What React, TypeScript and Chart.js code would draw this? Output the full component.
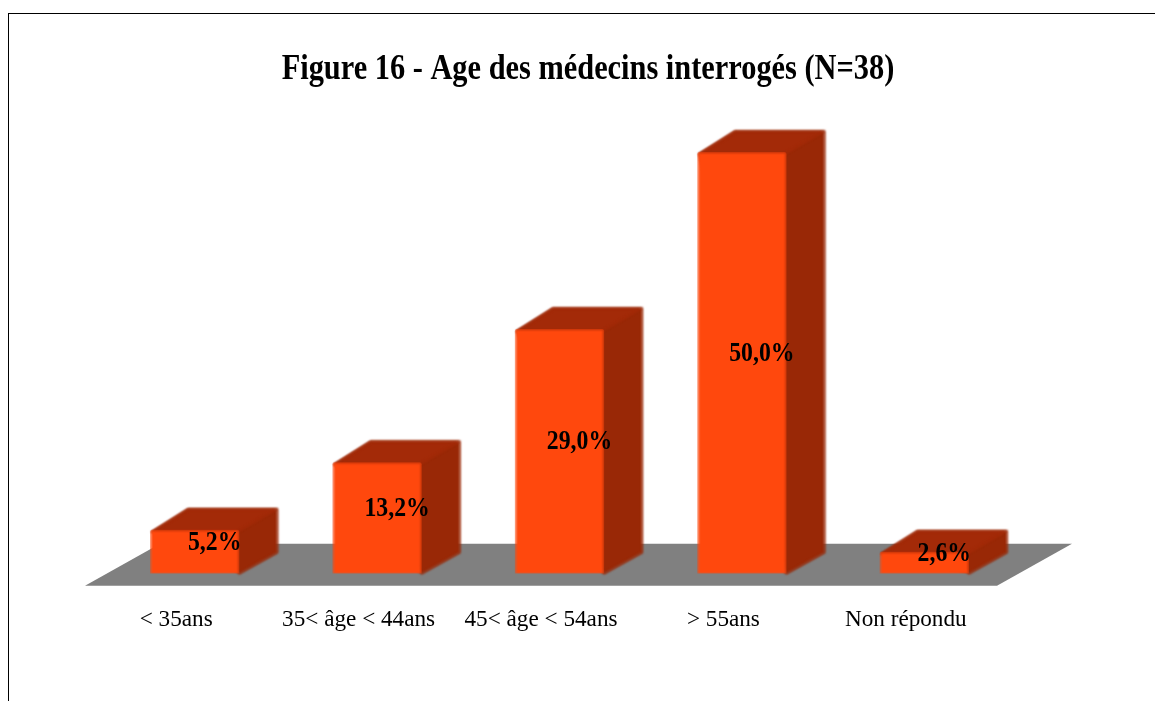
import React, { useEffect, useRef } from "react";
import { Chart, registerables } from "chart.js";

Chart.register(...registerables);

const categories = ["< 35ans", "35< âge < 44ans", "45< âge < 54ans", "> 55ans", "Non répondu"];
const percentages = [5.2, 13.2, 29.0, 50.0, 2.6];
const valueLabels = ["5,2%", "13,2%", "29,0%", "50,0%", "2,6%"];
const chartTitle = "Figure 16 - Age des médecins interrogés (N=38)";

const SERIF = '"Liberation Serif", "Times New Roman", serif';
const FLOOR_DX = 75;
const FLOOR_DY = 42;
const BAR_DX = 38;
const BAR_DY = 21;
const BAR_SHIFT_X = 18.5;
const BAR_SHIFT_Y = 12;
const TITLE_CENTER = 588;
const TITLE_SQUEEZE = 0.868;
const VALUE_SQUEEZE = 0.88;

const poly = (ctx: CanvasRenderingContext2D, pts: number[][], color: string) => {
  ctx.beginPath();
  pts.forEach((p, i) => (i ? ctx.lineTo(p[0], p[1]) : ctx.moveTo(p[0], p[1])));
  ctx.closePath();
  ctx.fillStyle = color;
  ctx.strokeStyle = color;
  ctx.lineWidth = 1.5;
  ctx.lineJoin = "round";
  ctx.fill();
  ctx.stroke();
};

const depthPlugin = {
  id: "depth3d",
  afterInit(chart: any) {
    const block = chart.titleBlock;
    const draw = block.draw.bind(block);
    block.draw = () => {
      const { ctx } = chart;
      const cx = (block.left + block.right) / 2;
      ctx.save();
      ctx.translate(TITLE_CENTER, 0);
      ctx.scale(TITLE_SQUEEZE, 1);
      ctx.translate(-cx, 0);
      draw();
      ctx.restore();
    };
  },
  beforeDatasetsDraw(chart: any) {
    const { ctx, chartArea: a } = chart;
    ctx.save();
    ctx.beginPath();
    ctx.moveTo(a.left, a.bottom);
    ctx.lineTo(a.right, a.bottom);
    ctx.lineTo(a.right + FLOOR_DX, a.bottom - FLOOR_DY);
    ctx.lineTo(a.left + FLOOR_DX, a.bottom - FLOOR_DY);
    ctx.closePath();
    ctx.fillStyle = "#808080";
    ctx.fill();
    ctx.restore();
  },
  beforeDatasetDraw(chart: any) {
    const { ctx } = chart;
    ctx.save();
    ctx.filter = "blur(0.8px)";
    ctx.translate(BAR_SHIFT_X, -BAR_SHIFT_Y);
    chart.getDatasetMeta(0).data.forEach((el: any) => {
      const { x, y, base, width } = el.getProps(["x", "y", "base", "width"], true);
      const l = x - width / 2;
      const r = x + width / 2;
      // Whole dark silhouette first, so that no pale seam shows where the faces meet.
      poly(
        ctx,
        [[l + 2, y + 2], [l + BAR_DX, y - BAR_DY], [r + BAR_DX, y - BAR_DY], [r + BAR_DX, base - BAR_DY], [r, base], [r - 2, base - 2]],
        "#992806"
      );
      poly(ctx, [[l + 2, y + 2], [r - 2, y + 2], [r + BAR_DX - 2, y - BAR_DY + 1], [l + BAR_DX, y - BAR_DY + 1]], "#A32A08");
    });
  },
  afterDatasetDraw(chart: any) {
    const { ctx } = chart;
    ctx.restore();
    ctx.save();
    ctx.font = `bold 27px ${SERIF}`;
    ctx.fillStyle = "#000000";
    ctx.textAlign = "center";
    ctx.textBaseline = "middle";
    chart.getDatasetMeta(0).data.forEach((el: any, i: number) => {
      const { x, y, base } = el.getProps(["x", "y", "base"], true);
      const px = x + BAR_SHIFT_X + BAR_DX / 2 + 1;
      const py = (y + base) / 2 - BAR_SHIFT_Y - 9;
      ctx.save();
      ctx.translate(px, py);
      ctx.scale(VALUE_SQUEEZE, 1);
      ctx.fillText(valueLabels[i], 0, 0);
      ctx.restore();
    });
    ctx.restore();
  },
};

export default function App() {
  const ref = useRef<HTMLCanvasElement>(null);
  useEffect(() => {
    const chart = new Chart(ref.current as HTMLCanvasElement, {
      type: "bar",
      data: {
        labels: categories,
        datasets: [
          {
            data: percentages,
            backgroundColor: "#FF480D",
            borderColor: "#F0440E",
            borderWidth: 1,
            borderRadius: 2,
            barPercentage: 0.49,
            categoryPercentage: 1,
          },
        ],
      },
      options: {
        responsive: false,
        animation: false,
        layout: { padding: { left: 85, right: 158, top: 0, bottom: 47.5 } },
        plugins: {
          legend: { display: false },
          tooltip: { enabled: false },
          title: {
            display: true,
            text: chartTitle,
            color: "#000000",
            font: { family: SERIF, size: 35, weight: "bold" },
            padding: { top: 49, bottom: 73 },
          },
        },
        scales: {
          x: {
            grid: { display: false, drawTicks: false },
            border: { display: false },
            ticks: { color: "#000000", font: { family: SERIF, size: 23.2 }, padding: 20, maxRotation: 0, autoSkip: false },
          },
          y: { display: false, min: 0, max: 50 },
        },
      },
      plugins: [depthPlugin],
    } as any);
    return () => chart.destroy();
  }, []);
  return (
    <div
      style={{
        position: "fixed",
        left: 0,
        top: 0,
        width: 1155,
        height: 701,
        overflow: "hidden",
        background: "#fff",
      }}
    >
      <div
        style={{
          position: "absolute",
          left: 8,
          top: 13,
          width: 1200,
          height: 800,
          borderLeft: "1px solid #000",
          borderTop: "1px solid #000",
        }}
      />
      <canvas ref={ref} width={1155} height={701} style={{ position: "absolute", left: 0, top: 0 }} />
    </div>
  );
}
